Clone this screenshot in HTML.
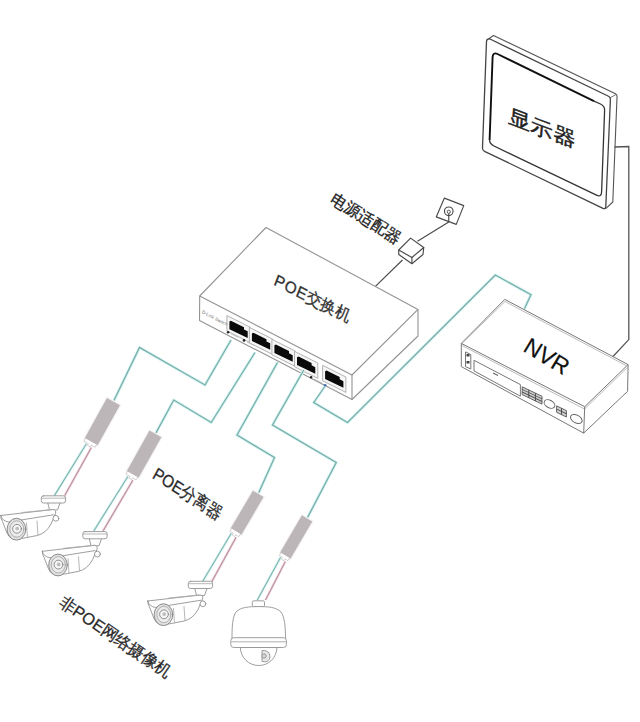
<!DOCTYPE html>
<html><head><meta charset="utf-8">
<style>
html,body{margin:0;padding:0;background:#fff;width:640px;height:722px;overflow:hidden}
svg{display:block}
text{font-family:"Liberation Sans",sans-serif}
</style></head>
<body>
<svg width="640" height="722" viewBox="0 0 640 722">
<rect width="640" height="722" fill="#fff"/>

<!-- ===== Monitor ===== -->
<g fill="none" stroke-linejoin="round">
  <path d="M488.5,39 L493.5,35.5 L615.5,93.7 Q617.5,95 617,97.5 L612.8,202 L605.5,208.8" stroke="#555" stroke-width="1.1" fill="#fff"/>
  <path d="M609.8,98 L616,94.5" stroke="#666" stroke-width="0.9"/>
  <path d="M490,39 L609,96.5 Q610.5,97.5 610.4,99.5 L605.8,206.5 Q605.5,209.3 603,208.3 L484.5,151.3 Q482.4,150.3 482.5,148 L486.5,41.5 Q486.7,38.5 490,39 Z" stroke="#444" stroke-width="1.3" fill="#fff"/>
  <path d="M594,101.2 L600.5,104 Q604.8,106 604.6,110.5 L601.6,192 Q601.4,197.5 596.5,195.2 L494,146 Q489.4,143.8 489.6,140" stroke="#333" stroke-width="1.3"/>
  <path d="M489.6,140 L492.6,57 Q493,52 497.5,54 L594,101.2" stroke="#111" stroke-width="1.9"/>
  <text x="0" y="0" font-size="22" fill="#222" stroke="#222" stroke-width="0.5" transform="matrix(1,0.38,-0.08,0.88,507.8,122)">显示器</text>
</g>
<!-- monitor to NVR black cable -->
<path d="M614.5,147 L628.8,146.5 L628.8,339.6 L612.5,357" stroke="#555" stroke-width="1.3" fill="none"/>

<!-- ===== Wall socket & adapter ===== -->
<g fill="none" stroke="#4a4a4a" stroke-width="1.15" stroke-linejoin="round">
  <path d="M444.4,198.1 L463.75,205.6 L456.25,224.4 L436.25,216.9 Z" fill="#fff"/>
  <circle cx="448.75" cy="211.25" r="4.3"/>
  <circle cx="448.75" cy="211.8" r="1.6" stroke-width="0.9"/>
  <path d="M448.75,213.4 L448.75,221.9 L417.5,241.25"/>
  <path d="M402.5,260 L375.4,286.3"/>
  <path d="M398.75,250 L398.75,254.5 L411.9,263.75 L423,254.5 L423.75,247.5 Z" fill="#fff"/>
  <path d="M410.6,238.1 L423.75,247.5 L411.9,257.5 L398.75,250 Z" fill="#fff"/>
  <path d="M411.9,257.5 L411.9,263.75"/>
</g>
<text font-size="16" fill="#222" stroke="#222" stroke-width="0.3" transform="translate(329,201.5) rotate(32.3)">电源适配器</text>

<!-- ===== POE switch ===== -->
<g stroke="#939393" stroke-width="1.1" fill="#fff" stroke-linejoin="round">
  <path d="M266,227.5 L418,309.4 L418,336 L352,399.5 L199.5,320.5 L199.7,296 Z"/>
  <path d="M199.7,296 L352,375 L418,309.4" fill="none"/>
  <path d="M352,375 L352,399.5" fill="none"/>
</g>
<text font-size="16" fill="#333" stroke="#333" stroke-width="0.3" transform="matrix(0.89,0.454,-0.36,0.94,273,284.5)"><tspan letter-spacing="0.8">POE</tspan>交换机</text>
<!-- ports -->
<g>
  <g transform="matrix(1,0.5,0,1,229.4,320)"><path d="M-2.5,-3.2 L20.8,-3.2 L20.8,12.2 L-2.5,12.2 Z" fill="#f6f6f6" stroke="#aaa" stroke-width="0.8"/><path d="M0,1.5 L1.5,0 L14.6,0 L14.6,2.2 L18.3,2.2 L18.3,8.8 L0,9.2 Z" fill="#0a0a0a"/></g>
  <g transform="matrix(1,0.5,0,1,251.9,331.9)"><path d="M-2.5,-3.2 L20.8,-3.2 L20.8,12.2 L-2.5,12.2 Z" fill="#f6f6f6" stroke="#aaa" stroke-width="0.8"/><path d="M0,1.5 L1.5,0 L14.6,0 L14.6,2.2 L18.3,2.2 L18.3,8.8 L0,9.2 Z" fill="#0a0a0a"/></g>
  <g transform="matrix(1,0.5,0,1,274.4,343.8)"><path d="M-2.5,-3.2 L20.8,-3.2 L20.8,12.2 L-2.5,12.2 Z" fill="#f6f6f6" stroke="#aaa" stroke-width="0.8"/><path d="M0,1.5 L1.5,0 L14.6,0 L14.6,2.2 L18.3,2.2 L18.3,8.8 L0,9.2 Z" fill="#0a0a0a"/></g>
  <g transform="matrix(1,0.5,0,1,297,355.8)"><path d="M-2.5,-3.2 L20.8,-3.2 L20.8,12.2 L-2.5,12.2 Z" fill="#f6f6f6" stroke="#aaa" stroke-width="0.8"/><path d="M0,1.5 L1.5,0 L14.6,0 L14.6,2.2 L18.3,2.2 L18.3,8.8 L0,9.2 Z" fill="#0a0a0a"/></g>
  <g transform="matrix(1,0.5,0,1,325.1,369.8)"><path d="M-2.5,-3.2 L20.8,-3.2 L20.8,12.2 L-2.5,12.2 Z" fill="#f6f6f6" stroke="#aaa" stroke-width="0.8"/><path d="M0,1.5 L1.5,0 L14.6,0 L14.6,2.2 L18.3,2.2 L18.3,8.8 L0,9.2 Z" fill="#0a0a0a"/></g>
  <g fill="#222">
    <circle cx="228.1" cy="332.3" r="1.3"/>
    <circle cx="244" cy="340.4" r="1.3"/>
    <circle cx="311.1" cy="377.3" r="1.2"/>
  </g>
  <circle cx="325.1" cy="385.3" r="1.4" fill="#4a6fb0"/>
  <g stroke="#bbb" stroke-width="0.9">
    <path d="M231,333.8 L238,337.3"/><path d="M247,342 L254,345.5"/><path d="M314,379 L322,383"/><path d="M328.5,387 L337,391.3"/>
  </g>
  <text font-size="4.6" fill="#777" transform="translate(201.5,313) rotate(27.5)">D-Link  Switch</text>
</g>

<!-- ===== NVR ===== -->
<g stroke="#777" stroke-width="1" fill="#fff" stroke-linejoin="round">
  <path d="M504.8,299.4 L628.1,364.6 L627.6,391.3 L583.7,433.1 L461.3,366.6 L461.3,343.4 Z"/>
  <path d="M461.3,343.4 L584.7,406.7 L628.1,364.6" fill="none"/>
  <path d="M463.5,342 L505,301.5 L626,365.5" fill="none" stroke="#aaa" stroke-width="0.8"/>
  <path d="M462,345.5 L584.5,409 L628,367" fill="none" stroke="#aaa" stroke-width="0.8"/>
  <path d="M584.7,406.7 L583.7,433.1" fill="none"/>
  <!-- power -->
  <path d="M465.5,351.9 L470.8,354.5 L470.8,369 L465.5,366.6 Z" fill="none"/>
  <rect x="466.5" y="354" width="3" height="2.5" fill="#444" stroke="none"/>
  <rect x="466.5" y="361" width="3" height="2.5" fill="#444" stroke="none"/>
  <!-- tray -->
  <path d="M474,360.3 L520.4,384.6 L520.4,396.2 L474,370.9 Z" fill="none"/>
  <path d="M493,373 L498,375.5" stroke="#666" stroke-width="1.2"/>
  <!-- vent -->
  <g transform="matrix(1,0.48,0,1,522.2,386.8)" stroke="#555" fill="#d0d0d0" stroke-width="0.8">
    <rect x="0" y="0" width="19.8" height="7.8"/>
    <path d="M0,2.6 L19.8,2.6 M0,5.2 L19.8,5.2 M6.6,0 L6.6,7.8 M13.2,0 L13.2,7.8" fill="none" stroke="#444" stroke-width="0.9"/>
  </g>
  <ellipse cx="549.5" cy="404" rx="5.8" ry="3.7" transform="rotate(29 549.5 404)" fill="none" stroke="#666"/>
  <g transform="matrix(1,0.48,0,1,556.6,405.9)" stroke="#555" fill="#d0d0d0" stroke-width="0.8">
    <rect x="0" y="0" width="9.8" height="6.4"/>
    <path d="M0,3.2 L9.8,3.2 M4.9,0 L4.9,6.4" fill="none" stroke="#444" stroke-width="0.9"/>
  </g>
  <ellipse cx="576.3" cy="419" rx="6.3" ry="3.9" transform="rotate(29 576.3 419)" fill="none" stroke="#666"/>
</g>
<text font-size="23" fill="#111" stroke="#111" stroke-width="0.2" text-anchor="middle" x="0" y="8.3" transform="translate(547,356) rotate(31)">NVR</text>

<!-- ===== Cables (teal) ===== -->
<g fill="none" stroke-linejoin="miter">
<g stroke="#d2f4f1" stroke-width="3"><path d="M231.00,340.00 L205.00,385.00 L139.50,347.50 L113.45,401.55"/><path d="M255.00,352.50 L211.25,422.50 L173.75,400.00 L155.45,433.85"/><path d="M277.50,362.50 L237.00,435.00 L274.50,457.50 L258.25,493.85"/><path d="M303.75,370.00 L272.50,425.00 L336.25,462.50 L307.10,518.35"/><path d="M325.00,386.25 L313.75,402.50 L347.50,422.50 L495.30,275.00 L531.00,294.70 L524.40,308.75"/></g>
<g stroke="#78aca9" stroke-width="1.25"><path d="M231.00,340.00 L205.00,385.00 L139.50,347.50 L113.45,401.55"/><path d="M255.00,352.50 L211.25,422.50 L173.75,400.00 L155.45,433.85"/><path d="M277.50,362.50 L237.00,435.00 L274.50,457.50 L258.25,493.85"/><path d="M303.75,370.00 L272.50,425.00 L336.25,462.50 L307.10,518.35"/><path d="M325.00,386.25 L313.75,402.50 L347.50,422.50 L495.30,275.00 L531.00,294.70 L524.40,308.75"/></g>
</g>
<g fill="none">
<g stroke="#d6f5f3" stroke-width="2.6"><path d="M86.41,443.73 L54.40,495.60"/><path d="M127.90,476.41 L93.75,531.00"/><path d="M231.28,533.33 L202.30,582.00"/><path d="M280.52,557.49 L257.30,600.00"/></g>
<g stroke="#f3dbe4" stroke-width="2.6"><path d="M91.35,447.61 L64.70,495.60"/><path d="M132.81,480.32 L103.00,531.00"/><path d="M236.12,537.33 L211.60,582.00"/><path d="M285.37,561.48 L265.50,600.00"/></g>
<g stroke="#7fb0ad" stroke-width="1.05"><path d="M86.41,443.73 L54.40,495.60"/><path d="M127.90,476.41 L93.75,531.00"/><path d="M231.28,533.33 L202.30,582.00"/><path d="M280.52,557.49 L257.30,600.00"/></g>
<g stroke="#b48e9a" stroke-width="1.05"><path d="M91.35,447.61 L64.70,495.60"/><path d="M132.81,480.32 L103.00,531.00"/><path d="M236.12,537.33 L211.60,582.00"/><path d="M285.37,561.48 L265.50,600.00"/></g>
</g>
<!-- ===== Splitters ===== -->
<g transform="translate(113.45,401.55) rotate(29.0)"><rect x="-8.60" y="-1.2" width="17.20" height="48.40" fill="#f7f4f5"/><rect x="-7.40" y="0" width="14.80" height="46.00" fill="#bcb6b8"/><path d="M-6.60,46.00 L-6.60,49.00 L-1.5,49.00 L-1.5,51.00 L1.5,51.00 L1.5,49.00 L6.20,49.00 L6.20,46.00" fill="#fff" stroke="#c8c2c4" stroke-width="0.7"/></g>
<g transform="translate(155.45,433.85) rotate(29.3)"><rect x="-8.00" y="-1.2" width="16.00" height="49.00" fill="#f7f4f5"/><rect x="-6.80" y="0" width="13.60" height="46.60" fill="#bcb6b8"/><path d="M-6.00,46.60 L-6.00,49.60 L-1.5,49.60 L-1.5,51.60 L1.5,51.60 L1.5,49.60 L5.60,49.60 L5.60,46.60" fill="#fff" stroke="#c8c2c4" stroke-width="0.7"/></g>
<g transform="translate(258.25,493.85) rotate(30.5)"><rect x="-7.40" y="-1.2" width="14.80" height="46.10" fill="#f7f4f5"/><rect x="-6.20" y="0" width="12.40" height="43.70" fill="#bcb6b8"/><path d="M-5.40,43.70 L-5.40,46.70 L-1.5,46.70 L-1.5,48.70 L1.5,48.70 L1.5,46.70 L5.00,46.70 L5.00,43.70" fill="#fff" stroke="#c8c2c4" stroke-width="0.7"/></g>
<g transform="translate(307.1,518.35) rotate(30.3)"><rect x="-7.20" y="-1.2" width="14.40" height="45.60" fill="#f7f4f5"/><rect x="-6.00" y="0" width="12.00" height="43.20" fill="#bcb6b8"/><path d="M-5.20,43.20 L-5.20,46.20 L-1.5,46.20 L-1.5,48.20 L1.5,48.20 L1.5,46.20 L4.80,46.20 L4.80,43.20" fill="#fff" stroke="#c8c2c4" stroke-width="0.7"/></g>

<!-- ===== Bullet cameras ===== -->

<g fill="#fff" stroke="#8c8c8c" stroke-width="0.85" stroke-linejoin="round" stroke-linecap="round">
    <path d="M47.8,503 L49.5,510 L57.5,510 L60,503" />
    <path d="M53.5,510 L55,515.5" fill="none"/>
    <rect x="41.3" y="495.8" width="24.3" height="7.2" rx="2.2"/>
    <path d="M41.8,498.2 L65.2,498.2" fill="none" stroke="#aaa"/>
    <!-- body -->
    <path d="M0.8,515.5 L53,509.5 Q56.5,510 55.5,513.5 L51,524 Q46,533.5 36.8,535.6 L19,539 Q10,540.5 7,533 L2.5,521.5 Q0.3,517.5 0.8,515.5 Z"/>
    <path d="M0.8,515.5 Q2.2,521 8.5,522 L53.5,514.8" fill="none"/>
    <path d="M22,512.5 L53,509.5" fill="none" stroke="#aaa"/>
    <path d="M26.5,523 L27.5,537.5" fill="none" stroke="#aaa"/>
    <path d="M37,521 L38,535" fill="none" stroke="#aaa"/>
    <circle cx="55.9" cy="518.3" r="2.9"/>
    <!-- lens -->
    <ellipse cx="16.5" cy="529.2" rx="9.3" ry="10.9" fill="#e2e2e2" stroke="#7a7a7a"/>
    <ellipse cx="16.8" cy="529" rx="7" ry="8.2" fill="#ececec" stroke="#a0a0a0" stroke-width="0.8"/>
    <circle cx="17" cy="528.8" r="4.4" fill="#f6f6f6" stroke="#808080"/>
    <circle cx="17.2" cy="528.6" r="1.9" fill="#bdbdbd" stroke="none"/>
  </g>
<g transform="translate(41.5,35.8)"><g fill="#fff" stroke="#8c8c8c" stroke-width="0.85" stroke-linejoin="round" stroke-linecap="round">
    <path d="M47.8,503 L49.5,510 L57.5,510 L60,503" />
    <path d="M53.5,510 L55,515.5" fill="none"/>
    <rect x="41.3" y="495.8" width="24.3" height="7.2" rx="2.2"/>
    <path d="M41.8,498.2 L65.2,498.2" fill="none" stroke="#aaa"/>
    <!-- body -->
    <path d="M0.8,515.5 L53,509.5 Q56.5,510 55.5,513.5 L51,524 Q46,533.5 36.8,535.6 L19,539 Q10,540.5 7,533 L2.5,521.5 Q0.3,517.5 0.8,515.5 Z"/>
    <path d="M0.8,515.5 Q2.2,521 8.5,522 L53.5,514.8" fill="none"/>
    <path d="M22,512.5 L53,509.5" fill="none" stroke="#aaa"/>
    <path d="M26.5,523 L27.5,537.5" fill="none" stroke="#aaa"/>
    <path d="M37,521 L38,535" fill="none" stroke="#aaa"/>
    <circle cx="55.9" cy="518.3" r="2.9"/>
    <!-- lens -->
    <ellipse cx="16.5" cy="529.2" rx="9.3" ry="10.9" fill="#e2e2e2" stroke="#7a7a7a"/>
    <ellipse cx="16.8" cy="529" rx="7" ry="8.2" fill="#ececec" stroke="#a0a0a0" stroke-width="0.8"/>
    <circle cx="17" cy="528.8" r="4.4" fill="#f6f6f6" stroke="#808080"/>
    <circle cx="17.2" cy="528.6" r="1.9" fill="#bdbdbd" stroke="none"/>
  </g></g>
<g transform="translate(147,85.5)"><g fill="#fff" stroke="#8c8c8c" stroke-width="0.85" stroke-linejoin="round" stroke-linecap="round">
    <path d="M47.8,503 L49.5,510 L57.5,510 L60,503" />
    <path d="M53.5,510 L55,515.5" fill="none"/>
    <rect x="41.3" y="495.8" width="24.3" height="7.2" rx="2.2"/>
    <path d="M41.8,498.2 L65.2,498.2" fill="none" stroke="#aaa"/>
    <!-- body -->
    <path d="M0.8,515.5 L53,509.5 Q56.5,510 55.5,513.5 L51,524 Q46,533.5 36.8,535.6 L19,539 Q10,540.5 7,533 L2.5,521.5 Q0.3,517.5 0.8,515.5 Z"/>
    <path d="M0.8,515.5 Q2.2,521 8.5,522 L53.5,514.8" fill="none"/>
    <path d="M22,512.5 L53,509.5" fill="none" stroke="#aaa"/>
    <path d="M26.5,523 L27.5,537.5" fill="none" stroke="#aaa"/>
    <path d="M37,521 L38,535" fill="none" stroke="#aaa"/>
    <circle cx="55.9" cy="518.3" r="2.9"/>
    <!-- lens -->
    <ellipse cx="16.5" cy="529.2" rx="9.3" ry="10.9" fill="#e2e2e2" stroke="#7a7a7a"/>
    <ellipse cx="16.8" cy="529" rx="7" ry="8.2" fill="#ececec" stroke="#a0a0a0" stroke-width="0.8"/>
    <circle cx="17" cy="528.8" r="4.4" fill="#f6f6f6" stroke="#808080"/>
    <circle cx="17.2" cy="528.6" r="1.9" fill="#bdbdbd" stroke="none"/>
  </g></g>

<!-- ===== Dome camera ===== -->
<g fill="#fff" stroke="#8c8c8c" stroke-width="0.85" stroke-linejoin="round">
  <rect x="252.3" y="600.8" width="12.2" height="6" rx="1.5"/>
  <path d="M232,638.5 C232,626 232.5,617 236,612 C241,607 249,606.6 258.5,606.6 C268,606.6 276,607 281,612 C284.5,617 285.5,626 285.5,638.5 Z"/>
  <path d="M240.3,647 C240.5,658 249,665.5 258.7,665.5 C268.5,665.5 276.8,658 277,647 Z"/>
  <rect x="230.8" y="637.7" width="55.6" height="9.8" rx="3"/>
  <path d="M231.3,641.8 L286,641.8" fill="none" stroke="#a0a0a0"/>
  <path d="M262,650.5 Q270,650 270,657 Q269.5,663 262,661.5 Z" fill="#e8e8e8"/>
  <circle cx="264" cy="656" r="2.2" fill="#d6d6d6"/>
</g>

<!-- ===== Labels ===== -->
<text font-size="16" fill="#2a2a2a" stroke="#2a2a2a" stroke-width="0.25" transform="matrix(0.82,0.525,-0.52,0.94,151.5,477.5)">POE分离器</text>
<text font-size="16.4" fill="#2a2a2a" stroke="#2a2a2a" stroke-width="0.3" transform="translate(58,605) rotate(34)">非POE网络摄像机</text>

</svg>
</body></html>
